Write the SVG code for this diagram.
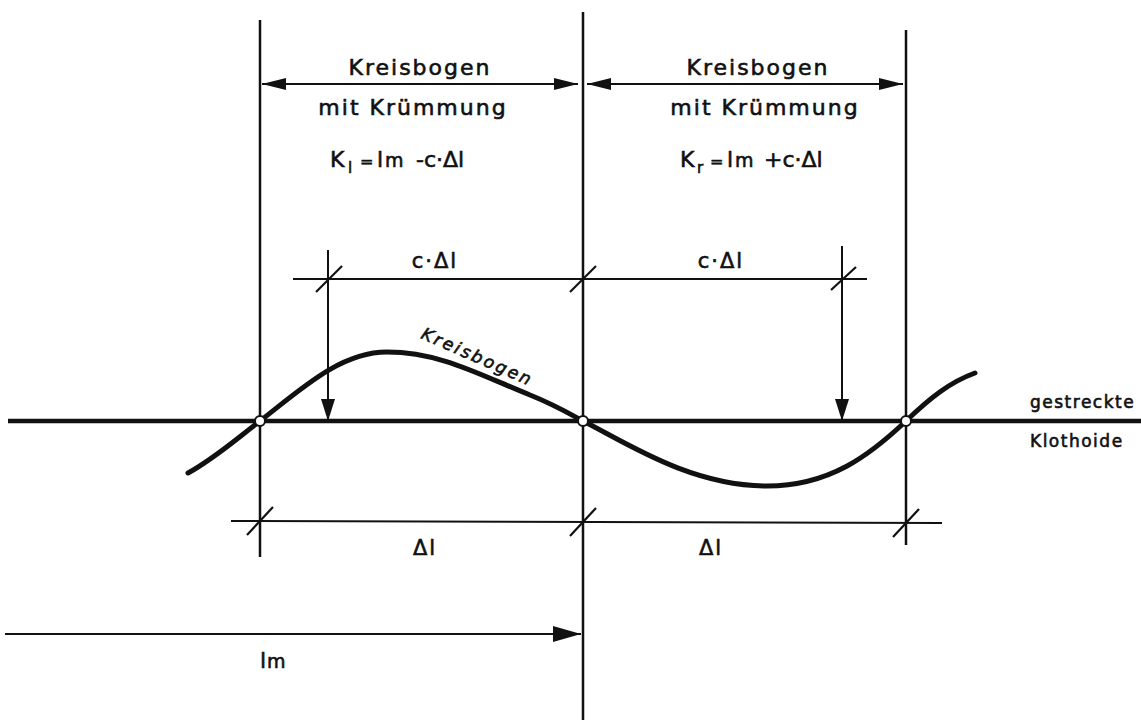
<svg xmlns="http://www.w3.org/2000/svg" width="1141" height="726" viewBox="0 0 1141 726">
<style>
.bg{fill:#ffffff}
.v{stroke:#111;stroke-width:2.5;fill:none}
.main{stroke:#111;stroke-width:4.5;fill:none}
.dim{stroke:#111;stroke-width:2;fill:none}
.tick{stroke:#111;stroke-width:2.2;fill:none}
.curve{stroke:#111;stroke-width:5;fill:none;stroke-linecap:round}
.pt{fill:#fff;stroke:#111;stroke-width:2}
text{font-family:"DejaVu Sans","Liberation Sans",sans-serif;fill:#111;stroke:#111;stroke-width:0.6px}
.lbl{font-size:22px;letter-spacing:2px;text-anchor:middle}
.f{font-size:22px}
.sub{font-size:15px}
.side{font-size:17px;letter-spacing:1.5px}
.dl{font-size:21px;letter-spacing:2px;text-anchor:middle}
</style>
<defs>
<marker id="ah" viewBox="0 0 24 12" refX="24" refY="6" markerWidth="24" markerHeight="12" markerUnits="userSpaceOnUse" orient="auto-start-reverse">
<path d="M0,0 L24,6 L0,12 Z" fill="#111"/>
</marker>
<marker id="ahd" viewBox="0 0 22 14" refX="22" refY="7" markerWidth="22" markerHeight="14" markerUnits="userSpaceOnUse" orient="auto">
<path d="M0,0 L22,7 L0,14 Z" fill="#111"/>
</marker>
<marker id="ahl" viewBox="0 0 28 16" refX="28" refY="8" markerWidth="28" markerHeight="16" markerUnits="userSpaceOnUse" orient="auto">
<path d="M0,0 L28,8 L0,16 Z" fill="#111"/>
</marker>
</defs>
<rect class="bg" x="0" y="0" width="1141" height="726"/>

<g id="connectors">
<line class="v" x1="260" y1="20" x2="260" y2="557"/>
<line class="v" x1="583" y1="12" x2="583" y2="720"/>
<line class="v" x1="906" y1="30" x2="906" y2="545"/>
<line class="main" x1="8" y1="421" x2="1141" y2="421"/>
<line class="dim" x1="262" y1="84" x2="578" y2="84" marker-start="url(#ah)" marker-end="url(#ah)"/>
<line class="dim" x1="587" y1="84" x2="903" y2="84" marker-start="url(#ah)" marker-end="url(#ah)"/>
<line class="dim" x1="293" y1="279" x2="867" y2="279"/>
<line class="tick" x1="316" y1="292" x2="342" y2="266"/>
<line class="tick" x1="570" y1="292" x2="596" y2="266"/>
<line class="tick" x1="831" y1="290" x2="856" y2="267"/>
<line class="dim" x1="328" y1="250" x2="328" y2="421" marker-end="url(#ahd)"/>
<line class="dim" x1="842" y1="246" x2="842" y2="421" marker-end="url(#ahd)"/>
<line class="dim" x1="231" y1="521" x2="942" y2="523"/>
<line class="tick" x1="247" y1="535" x2="273" y2="507"/>
<line class="tick" x1="570" y1="536" x2="596" y2="508"/>
<line class="tick" x1="893" y1="537" x2="919" y2="509"/>
<line class="dim" x1="5" y1="634" x2="581" y2="634" marker-end="url(#ahl)"/>
</g>

<g id="curve">
<path class="curve" d="M188,473 C215,458 235,440 260,421 C300,390 340,352 387,352 C440,352 480,375 530,395 C555,405 570,414 583,421 C625,442 690,486 767,486 C830,486 870,455 906,421 C930,398 950,382 975,373"/>
<text x="420" y="338" transform="rotate(23.7 420 338)" style="font-size:17px;font-style:italic;letter-spacing:2.5px">Kreisbogen</text>
</g>

<g id="points">
<circle class="pt" cx="260" cy="421" r="5"/>
<circle class="pt" cx="583" cy="421" r="5"/>
<circle class="pt" cx="906" cy="421" r="5"/>
</g>

<g id="left-arc">
<text class="lbl" x="420" y="75">Kreisbogen</text>
<text class="lbl" x="413" y="115">mit Krümmung</text>
<text class="f" x="330" y="167">K<tspan class="sub" x="348" dy="6">l</tspan><tspan dy="-6" x="360" style="font-size:16px">=</tspan><tspan x="377">l</tspan><tspan x="385" style="font-size:19px">m</tspan><tspan x="416">-c·Δl</tspan></text>
</g>

<g id="right-arc">
<text class="lbl" x="758" y="75">Kreisbogen</text>
<text class="lbl" x="765" y="115">mit Krümmung</text>
<text class="f" x="680" y="167">K<tspan class="sub" x="697" dy="6">r</tspan><tspan dy="-6" x="710" style="font-size:16px">=</tspan><tspan x="727">l</tspan><tspan x="735" style="font-size:19px">m</tspan><tspan x="764">+c·Δl</tspan></text>
</g>

<g id="dim-labels">
<text class="dl" x="435" y="268">c·Δl</text>
<text class="dl" x="721" y="268">c·Δl</text>
<text class="dl" x="425" y="555">Δl</text>
<text class="dl" x="711" y="555">Δl</text>
<text class="f" x="260" y="668">l<tspan x="267" style="font-size:19px">m</tspan></text>
</g>

<g id="axis-label">
<text class="side" x="1030" y="408">gestreckte</text>
<text class="side" x="1030" y="447">Klothoide</text>
</g>
</svg>
